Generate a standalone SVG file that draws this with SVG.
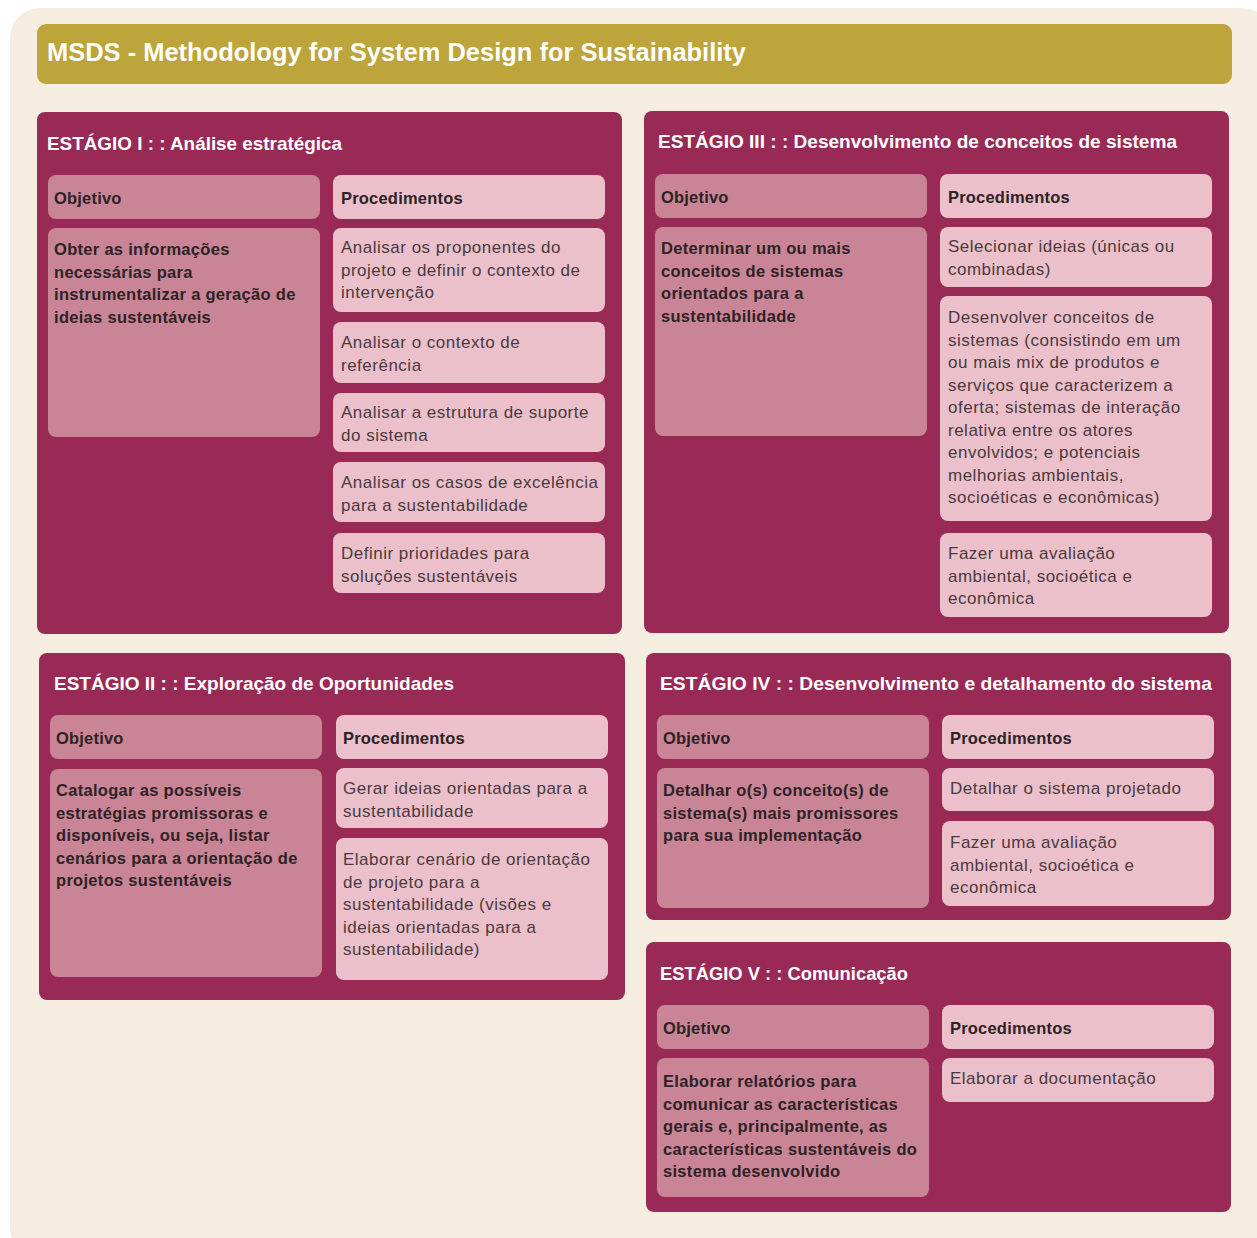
<svg xmlns="http://www.w3.org/2000/svg" width="1257" height="1238" viewBox="0 0 1257 1238">
  <style>
    .page { fill: #f5ede0; }
    .title-bar { fill: #bda43b; }
    .title { font-family: "Liberation Sans", Arial, sans-serif; font-weight: bold; font-size: 26px; fill: #ffffff; }
    .stage { fill: #992a56; }
    .stage-title { font-family: "Liberation Sans", Arial, sans-serif; font-weight: bold; font-size: 19px; fill: #ffffff; }
    .obj { fill: #c98595; }
    .proc { fill: #ebc0ca; }
    .head { font-family: "Liberation Sans", Arial, sans-serif; font-weight: bold; font-size: 16.5px; letter-spacing: 0.2px; fill: #2e2226; }
    .obj-text { font-family: "Liberation Sans", Arial, sans-serif; font-weight: bold; font-size: 16.5px; letter-spacing: 0.3px; fill: #2e2226; }
    .proc-text { font-family: "Liberation Sans", Arial, sans-serif; font-size: 17px; letter-spacing: 0.5px; fill: #4a3a3e; }
  </style>

  <!-- page background -->
  <rect class="page" x="10" y="8" width="1262" height="1250" rx="30"/>

  <!-- heading -->
  <g id="title">
    <rect class="title-bar" x="37" y="24" width="1195" height="60" rx="9"/>
    <text class="title" x="47" y="61" textLength="699" lengthAdjust="spacingAndGlyphs">MSDS - Methodology for System Design for Sustainability</text>
  </g>

  <!-- Stage I -->
  <g id="stage-1">
    <rect class="stage" x="37" y="112" width="585" height="522" rx="8"/>
    <text class="stage-title" x="47" y="150" textLength="295" lengthAdjust="spacingAndGlyphs">ESTÁGIO I : : Análise estratégica</text>
    <rect class="obj" x="48" y="175" width="272" height="44" rx="8"/>
    <text class="head" x="54" y="204">Objetivo</text>
    <rect class="obj" x="48" y="228" width="272" height="209" rx="8"/>
    <text class="obj-text" x="54" y="255">
      <tspan x="54">Obter as informações</tspan>
      <tspan x="54" dy="22.5">necessárias para</tspan>
      <tspan x="54" dy="22.5">instrumentalizar a geração de</tspan>
      <tspan x="54" dy="22.5">ideias sustentáveis</tspan>
    </text>
    <rect class="proc" x="333" y="175" width="272" height="44" rx="8"/>
    <text class="head" x="341" y="204">Procedimentos</text>
    <rect class="proc" x="333" y="228" width="272" height="84" rx="8"/>
    <text class="proc-text" x="341" y="253">
      <tspan x="341">Analisar os proponentes do</tspan>
      <tspan x="341" dy="22.5">projeto e definir o contexto de</tspan>
      <tspan x="341" dy="22.5">intervenção</tspan>
    </text>
    <rect class="proc" x="333" y="322" width="272" height="61" rx="8"/>
    <text class="proc-text" x="341" y="348">
      <tspan x="341">Analisar o contexto de</tspan>
      <tspan x="341" dy="22.5">referência</tspan>
    </text>
    <rect class="proc" x="333" y="393" width="272" height="59" rx="8"/>
    <text class="proc-text" x="341" y="418">
      <tspan x="341">Analisar a estrutura de suporte</tspan>
      <tspan x="341" dy="22.5">do sistema</tspan>
    </text>
    <rect class="proc" x="333" y="462" width="272" height="60" rx="8"/>
    <text class="proc-text" x="341" y="488">
      <tspan x="341">Analisar os casos de excelência</tspan>
      <tspan x="341" dy="22.5">para a sustentabilidade</tspan>
    </text>
    <rect class="proc" x="333" y="533" width="272" height="60" rx="8"/>
    <text class="proc-text" x="341" y="559">
      <tspan x="341">Definir prioridades para</tspan>
      <tspan x="341" dy="22.5">soluções sustentáveis</tspan>
    </text>
  </g>

  <!-- Stage III -->
  <g id="stage-3">
    <rect class="stage" x="644" y="111" width="585" height="522" rx="8"/>
    <text class="stage-title" x="658" y="148" textLength="519" lengthAdjust="spacingAndGlyphs">ESTÁGIO III : : Desenvolvimento de conceitos de sistema</text>
    <rect class="obj" x="655" y="174" width="272" height="44" rx="8"/>
    <text class="head" x="661" y="203">Objetivo</text>
    <rect class="obj" x="655" y="227" width="272" height="209" rx="8"/>
    <text class="obj-text" x="661" y="254">
      <tspan x="661">Determinar um ou mais</tspan>
      <tspan x="661" dy="22.5">conceitos de sistemas</tspan>
      <tspan x="661" dy="22.5">orientados para a</tspan>
      <tspan x="661" dy="22.5">sustentabilidade</tspan>
    </text>
    <rect class="proc" x="940" y="174" width="272" height="44" rx="8"/>
    <text class="head" x="948" y="203">Procedimentos</text>
    <rect class="proc" x="940" y="227" width="272" height="60" rx="8"/>
    <text class="proc-text" x="948" y="252">
      <tspan x="948">Selecionar ideias (únicas ou</tspan>
      <tspan x="948" dy="22.5">combinadas)</tspan>
    </text>
    <rect class="proc" x="940" y="296" width="272" height="225" rx="8"/>
    <text class="proc-text" x="948" y="323">
      <tspan x="948">Desenvolver conceitos de</tspan>
      <tspan x="948" dy="22.5">sistemas (consistindo em um</tspan>
      <tspan x="948" dy="22.5">ou mais mix de produtos e</tspan>
      <tspan x="948" dy="22.5">serviços que caracterizem a</tspan>
      <tspan x="948" dy="22.5">oferta; sistemas de interação</tspan>
      <tspan x="948" dy="22.5">relativa entre os atores</tspan>
      <tspan x="948" dy="22.5">envolvidos; e potenciais</tspan>
      <tspan x="948" dy="22.5">melhorias ambientais,</tspan>
      <tspan x="948" dy="22.5">socioéticas e econômicas)</tspan>
    </text>
    <rect class="proc" x="940" y="533" width="272" height="84" rx="8"/>
    <text class="proc-text" x="948" y="559">
      <tspan x="948">Fazer uma avaliação</tspan>
      <tspan x="948" dy="22.5">ambiental, socioética e</tspan>
      <tspan x="948" dy="22.5">econômica</tspan>
    </text>
  </g>

  <!-- Stage II -->
  <g id="stage-2">
    <rect class="stage" x="39" y="653" width="586" height="347" rx="8"/>
    <text class="stage-title" x="54" y="690" textLength="400" lengthAdjust="spacingAndGlyphs">ESTÁGIO II : : Exploração de Oportunidades</text>
    <rect class="obj" x="50" y="715" width="272" height="44" rx="8"/>
    <text class="head" x="56" y="744">Objetivo</text>
    <rect class="obj" x="50" y="769" width="272" height="208" rx="8"/>
    <text class="obj-text" x="56" y="796">
      <tspan x="56">Catalogar as possíveis</tspan>
      <tspan x="56" dy="22.5">estratégias promissoras e</tspan>
      <tspan x="56" dy="22.5">disponíveis, ou seja, listar</tspan>
      <tspan x="56" dy="22.5">cenários para a orientação de</tspan>
      <tspan x="56" dy="22.5">projetos sustentáveis</tspan>
    </text>
    <rect class="proc" x="336" y="715" width="272" height="44" rx="8"/>
    <text class="head" x="343" y="744">Procedimentos</text>
    <rect class="proc" x="336" y="768" width="272" height="60" rx="8"/>
    <text class="proc-text" x="343" y="794">
      <tspan x="343">Gerar ideias orientadas para a</tspan>
      <tspan x="343" dy="22.5">sustentabilidade</tspan>
    </text>
    <rect class="proc" x="336" y="838" width="272" height="142" rx="8"/>
    <text class="proc-text" x="343" y="865">
      <tspan x="343">Elaborar cenário de orientação</tspan>
      <tspan x="343" dy="22.5">de projeto para a</tspan>
      <tspan x="343" dy="22.5">sustentabilidade (visões e</tspan>
      <tspan x="343" dy="22.5">ideias orientadas para a</tspan>
      <tspan x="343" dy="22.5">sustentabilidade)</tspan>
    </text>
  </g>

  <!-- Stage IV -->
  <g id="stage-4">
    <rect class="stage" x="646" y="653" width="585" height="267" rx="8"/>
    <text class="stage-title" x="660" y="690" textLength="552" lengthAdjust="spacingAndGlyphs">ESTÁGIO IV : : Desenvolvimento e detalhamento do sistema</text>
    <rect class="obj" x="657" y="715" width="272" height="44" rx="8"/>
    <text class="head" x="663" y="744">Objetivo</text>
    <rect class="obj" x="657" y="768" width="272" height="140" rx="8"/>
    <text class="obj-text" x="663" y="796">
      <tspan x="663">Detalhar o(s) conceito(s) de</tspan>
      <tspan x="663" dy="22.5">sistema(s) mais promissores</tspan>
      <tspan x="663" dy="22.5">para sua implementação</tspan>
    </text>
    <rect class="proc" x="942" y="715" width="272" height="44" rx="8"/>
    <text class="head" x="950" y="744">Procedimentos</text>
    <rect class="proc" x="942" y="768" width="272" height="43" rx="8"/>
    <text class="proc-text" x="950" y="794">Detalhar o sistema projetado</text>
    <rect class="proc" x="942" y="821" width="272" height="85" rx="8"/>
    <text class="proc-text" x="950" y="848">
      <tspan x="950">Fazer uma avaliação</tspan>
      <tspan x="950" dy="22.5">ambiental, socioética e</tspan>
      <tspan x="950" dy="22.5">econômica</tspan>
    </text>
  </g>

  <!-- Stage V -->
  <g id="stage-5">
    <rect class="stage" x="646" y="942" width="585" height="270" rx="8"/>
    <text class="stage-title" x="660" y="980" textLength="248" lengthAdjust="spacingAndGlyphs">ESTÁGIO V : : Comunicação</text>
    <rect class="obj" x="657" y="1005" width="272" height="44" rx="8"/>
    <text class="head" x="663" y="1034">Objetivo</text>
    <rect class="obj" x="657" y="1058" width="272" height="139" rx="8"/>
    <text class="obj-text" x="663" y="1087">
      <tspan x="663">Elaborar relatórios para</tspan>
      <tspan x="663" dy="22.5">comunicar as características</tspan>
      <tspan x="663" dy="22.5">gerais e, principalmente, as</tspan>
      <tspan x="663" dy="22.5">características sustentáveis do</tspan>
      <tspan x="663" dy="22.5">sistema desenvolvido</tspan>
    </text>
    <rect class="proc" x="942" y="1005" width="272" height="44" rx="8"/>
    <text class="head" x="950" y="1034">Procedimentos</text>
    <rect class="proc" x="942" y="1058" width="272" height="44" rx="8"/>
    <text class="proc-text" x="950" y="1084">Elaborar a documentação</text>
  </g>
</svg>
